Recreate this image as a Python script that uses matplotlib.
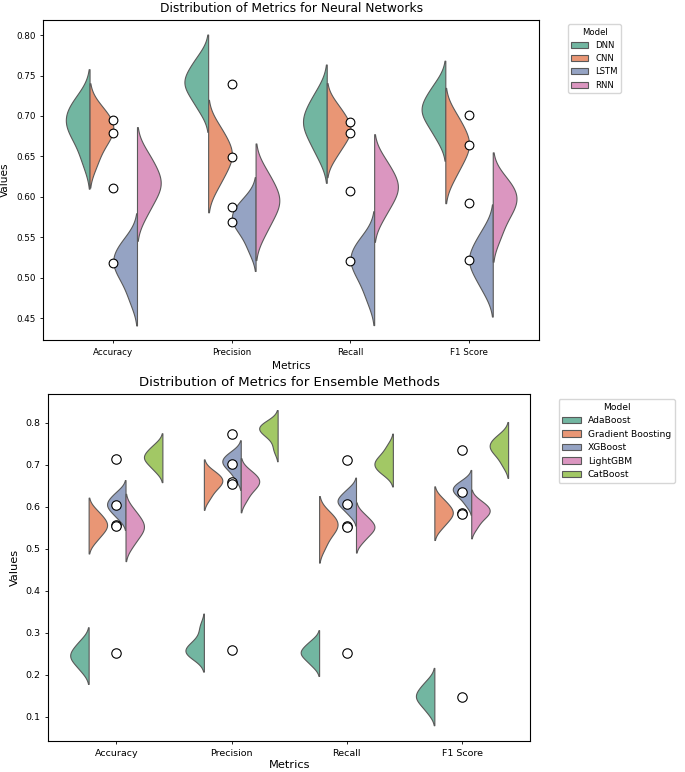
import numpy as np
import pandas as pd
import matplotlib
matplotlib.use("Agg")
import matplotlib.pyplot as plt
import seaborn as sns

metrics = ["Accuracy", "Precision", "Recall", "F1 Score"]

# ---- Neural network samples (per metric, per model) ----
nn_models = ["DNN", "CNN", "LSTM", "RNN"]
dnn_acc = [0.644, 0.667, 0.679, 0.688, 0.695, 0.703, 0.712, 0.724]
dnn_prec = [0.708, 0.722, 0.732, 0.739, 0.744, 0.751, 0.761, 0.773]
dnn_rec = [0.651, 0.668, 0.680, 0.689, 0.695, 0.704, 0.715, 0.730]
dnn_f1 = [0.673, 0.688, 0.698, 0.705, 0.710, 0.718, 0.727, 0.740]
cnn_acc = [0.641, 0.661, 0.672, 0.679, 0.686, 0.692, 0.700, 0.711]
cnn_prec = [0.613, 0.629, 0.640, 0.649, 0.655, 0.663, 0.674, 0.688]
cnn_rec = [0.651, 0.665, 0.674, 0.681, 0.686, 0.693, 0.702, 0.714]
cnn_f1 = [0.625, 0.642, 0.653, 0.662, 0.668, 0.676, 0.688, 0.702]
lstm_acc = [0.473, 0.494, 0.506, 0.514, 0.521, 0.528, 0.537, 0.548]
lstm_prec = [0.535, 0.553, 0.563, 0.569, 0.575, 0.581, 0.588, 0.598]
lstm_rec = [0.474, 0.495, 0.507, 0.516, 0.523, 0.530, 0.539, 0.550]
lstm_f1 = [0.484, 0.500, 0.511, 0.519, 0.525, 0.534, 0.544, 0.559]
rnn_acc = [0.578, 0.595, 0.606, 0.614, 0.620, 0.629, 0.640, 0.654]
rnn_prec = [0.555, 0.572, 0.584, 0.592, 0.598, 0.607, 0.618, 0.633]
rnn_rec = [0.575, 0.591, 0.601, 0.609, 0.615, 0.623, 0.633, 0.647]
rnn_f1 = [0.551, 0.571, 0.583, 0.591, 0.598, 0.605, 0.613, 0.624]

# point values (one per model per metric)
nn_points = {
    "DNN": [0.695, 0.740, 0.692, 0.701],
    "CNN": [0.679, 0.649, 0.679, 0.664],
    "LSTM": [0.518, 0.569, 0.521, 0.522],
    "RNN": [0.611, 0.588, 0.607, 0.592],
}

# ---- Ensemble samples ----
ens_models = ["AdaBoost", "Gradient Boosting", "XGBoost", "LightGBM", "CatBoost"]
ada_acc = [0.209, 0.225, 0.235, 0.243, 0.249, 0.257, 0.268, 0.282]
ada_prec = [0.239, 0.247, 0.253, 0.259, 0.263, 0.271, 0.285, 0.314]
ada_rec = [0.222, 0.235, 0.244, 0.250, 0.255, 0.261, 0.270, 0.281]
ada_f1 = [0.111, 0.128, 0.138, 0.146, 0.152, 0.160, 0.171, 0.185]
gb_acc = [0.519, 0.535, 0.545, 0.553, 0.559, 0.567, 0.577, 0.591]
gb_prec = [0.620, 0.638, 0.649, 0.656, 0.662, 0.668, 0.675, 0.685]
gb_rec = [0.503, 0.527, 0.541, 0.550, 0.558, 0.566, 0.575, 0.589]
gb_f1 = [0.550, 0.565, 0.575, 0.583, 0.588, 0.596, 0.606, 0.619]
xgb_acc = [0.572, 0.586, 0.595, 0.602, 0.608, 0.615, 0.624, 0.636]
xgb_prec = [0.667, 0.685, 0.695, 0.702, 0.708, 0.714, 0.721, 0.731]
xgb_rec = [0.581, 0.595, 0.604, 0.611, 0.615, 0.622, 0.631, 0.643]
xgb_f1 = [0.605, 0.621, 0.630, 0.636, 0.642, 0.647, 0.653, 0.663]
lgbm_acc = [0.507, 0.527, 0.539, 0.549, 0.555, 0.565, 0.577, 0.594]
lgbm_prec = [0.616, 0.636, 0.647, 0.654, 0.661, 0.667, 0.675, 0.686]
lgbm_rec = [0.518, 0.533, 0.542, 0.549, 0.554, 0.561, 0.570, 0.583]
lgbm_f1 = [0.551, 0.569, 0.579, 0.585, 0.591, 0.597, 0.604, 0.614]
cat_acc = [0.685, 0.699, 0.708, 0.715, 0.720, 0.727, 0.736, 0.748]
cat_prec = [0.736, 0.762, 0.774, 0.781, 0.785, 0.790, 0.796, 0.802]
cat_rec = [0.677, 0.687, 0.695, 0.701, 0.708, 0.715, 0.726, 0.745]
cat_f1 = [0.699, 0.719, 0.731, 0.738, 0.745, 0.752, 0.760, 0.771]

ens_points = {
    "AdaBoost": [0.252, 0.259, 0.252, 0.146],
    "Gradient Boosting": [0.557, 0.658, 0.553, 0.585],
    "XGBoost": [0.605, 0.701, 0.606, 0.636],
    "LightGBM": [0.555, 0.655, 0.551, 0.583],
    "CatBoost": [0.713, 0.774, 0.712, 0.735],
}

nn_samples = {
    "DNN": [dnn_acc, dnn_prec, dnn_rec, dnn_f1],
    "CNN": [cnn_acc, cnn_prec, cnn_rec, cnn_f1],
    "LSTM": [lstm_acc, lstm_prec, lstm_rec, lstm_f1],
    "RNN": [rnn_acc, rnn_prec, rnn_rec, rnn_f1],
}
ens_samples = {
    "AdaBoost": [ada_acc, ada_prec, ada_rec, ada_f1],
    "Gradient Boosting": [gb_acc, gb_prec, gb_rec, gb_f1],
    "XGBoost": [xgb_acc, xgb_prec, xgb_rec, xgb_f1],
    "LightGBM": [lgbm_acc, lgbm_prec, lgbm_rec, lgbm_f1],
    "CatBoost": [cat_acc, cat_prec, cat_rec, cat_f1],
}


def to_long(samples):
    rows = []
    for model, lists in samples.items():
        for metric, vals in zip(metrics, lists):
            for v in vals:
                rows.append({"Metric": metric, "Value": v, "Model": model})
    return pd.DataFrame(rows)


df_nn = to_long(nn_samples)
df_ens = to_long(ens_samples)

W, H = 685, 772
fig = plt.figure(figsize=(W / 100, H / 100), dpi=100)


def panel(rect, df, models, points, title, k, xpad):
    ax = fig.add_axes(rect)
    sns.violinplot(data=df, x="Metric", y="Value", hue="Model", order=metrics,
                   hue_order=models, split=True, inner=None, palette="Set2",
                   density_norm="width", linewidth=0.8, ax=ax)
    for model in models:
        ax.scatter(range(len(metrics)), points[model], s=100 * k * k,
                   facecolor="white", edgecolor="black", linewidth=0.8, zorder=5)
    ax.set_title(title, fontsize=14 * k)
    ax.set_xlabel("Metrics", fontsize=12 * k, labelpad=xpad)
    ax.set_ylabel("Values", fontsize=12 * k)
    ax.tick_params(labelsize=10 * k, width=0.6, length=3.5 * k)
    for sp in ax.spines.values():
        sp.set_linewidth(0.8)
    sns.move_legend(ax, "upper left", bbox_to_anchor=(1.05, 1), title="Model",
                    fontsize=10 * k * 0.97, title_fontsize=10 * k * 0.97)
    return ax


ax1 = panel([43.3 / W, 1 - 340 / H, (539 - 43.3) / W, 320 / H], df_nn, nn_models,
            nn_points, "Distribution of Metrics for Neural Networks", 0.63, 3.0)
ax2 = panel([48.3 / W, 1 - 741 / H, (530 - 48.3) / W, (741 - 394.3) / H], df_ens,
            ens_models, ens_points, "Distribution of Metrics for Ensemble Methods", 0.68, 1.5)

fig.savefig("out.png", dpi=100)
